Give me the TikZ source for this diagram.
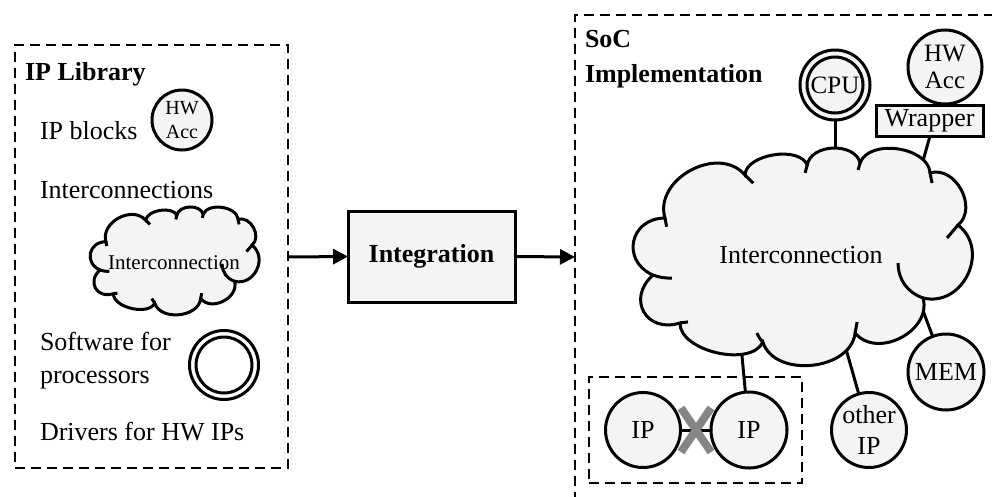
\documentclass[tikz,border=0pt]{standalone}
\usepackage{fontspec}
\setmainfont{Liberation Serif}
\usetikzlibrary{arrows.meta,calc}
\definecolor{shade}{HTML}{F4F4F4}
\definecolor{xmark}{HTML}{858585}
% cloud outline in unit coordinates: (0,0) top left, (1,1) bottom right
\newcommand\cloudoutline{%
  \path[draw, ln, fill=shade, bend right=78]
    (0.090,0.321) to[looseness=1.55] (0.054,0.590)
    to[looseness=1.65] (0.135,0.816)
    to[looseness=0.85] (0.384,0.906)
    to[looseness=1.05] (0.661,0.863)
    to[looseness=1.15] (0.865,0.698)
    to[looseness=1.30] (0.970,0.354)
    to[looseness=1.15] (0.886,0.108)
    to[looseness=0.95] (0.676,0.061)
    to[looseness=1.05] (0.517,0.071)
    to[looseness=0.85] (0.330,0.118)
    to[looseness=1.15] (0.090,0.321) -- cycle;
  \draw[ln] (0.090,0.321) -- (0.095,0.362);
  \draw[ln] (0.054,0.590) to[bend right=10] (0.111,0.604);
  \draw[ln] (0.135,0.816) -- (0.159,0.811);
  \draw[ln] (0.384,0.906) to[bend left=10] (0.366,0.863);
  \draw[ln] (0.661,0.863) -- (0.667,0.811);
  \draw[ln] (0.865,0.698) to[bend left=35] (0.790,0.533);
  \draw[ln] (0.970,0.354) -- (0.937,0.415);
  \draw[ln] (0.886,0.108) -- (0.892,0.156);
  \draw[ln] (0.676,0.061) -- (0.670,0.094);
  \draw[ln] (0.517,0.071) -- (0.511,0.108);
  \draw[ln] (0.330,0.118) -- (0.355,0.156);
}
\begin{document}
\begin{tikzpicture}[x=1pt,y=-1pt,
  every node/.style={inner sep=0pt, outer sep=0pt},
  ln/.style={line width=3pt},
  frame/.style={line width=2.8pt, dash pattern=on 10pt off 6pt},
  blob/.style={circle, draw, ln, fill=shade, minimum size=#1, align=center},
  txt/.style={font=\fontsize{26}{30}\selectfont},
  btxt/.style={font=\fontsize{26}{35}\selectfont\bfseries},
  flow/.style={ln, -{Triangle[length=15pt,width=15pt]}}
]
\useasboundingbox (0,0) rectangle (992,496);
\clip (0,0) rectangle (992,496);

% ---------- IP library ----------
\node[draw, frame, minimum width=273pt, minimum height=423pt, anchor=north west] (lib) at (15,45) {};
\node[btxt, anchor=base west] (libtitle) at (25,80) {IP Library};
\node[txt, anchor=base west] (tblocks) at (40,139) {IP blocks};
\node[blob=60pt, font=\fontsize{20}{24}\selectfont] (lhw) at (182,120) {HW\\Acc};
\node[txt, anchor=base west] (tinter) at (40,198) {Interconnections};
\begin{scope}[shift={(91,208)}, x={(166pt,0pt)}, y={(0pt,-105pt)}]
  \cloudoutline
\end{scope}
\node[font=\fontsize{21}{24}\selectfont] (lcloudtxt) at (174,263) {Interconnection};
\node[txt, anchor=base west] (tsw) at (40,350) {Software for};
\node[txt, anchor=base west] (tproc) at (40,383) {processors};
\node[circle, draw, ln, fill=white, minimum size=69pt] (lcpu) at (224,365) {};
\node[circle, draw, ln, fill=white, minimum size=56pt] (lcpuin) at (224,365) {};
\node[txt, anchor=base west] (tdrv) at (40,440) {Drivers for HW IPs};

% ---------- integration step ----------
\node[draw, ln, fill=shade, minimum width=167pt, minimum height=91pt, btxt] (integ) at (431.5,256.5) {Integration};
\coordinate (libout) at (288,257);
\coordinate (socin) at (575,257);
\draw[flow] (libout) -- (integ.west);
\draw[flow] (integ.east) -- (socin);

% ---------- SoC implementation ----------
\coordinate (socTR) at (1010,15);
\coordinate (socTL) at (575,15);
\coordinate (socBL) at (575,520);
\draw[frame] (socTR) -- (socTL) -- (socBL);
\node[btxt, anchor=base west] (soc1) at (585,47) {SoC};
\node[btxt, anchor=base west] (soc2) at (585,82) {Implementation};

% connector end points inside the interconnection cloud
\coordinate (pcpu) at (835,165);
\coordinate (wrapfoot) at (930,136);
\coordinate (pwrap) at (919,175);
\coordinate (pip) at (740,335);
\coordinate (pother) at (842,335);
\coordinate (pmem) at (916,292);

\node[circle, draw, ln, fill=shade, minimum size=70pt] (cpu) at (835,85) {};
\node[blob=56pt, font=\fontsize{25}{28}\selectfont] (cpuin) at (835,85) {CPU};
\node[blob=74pt, font=\fontsize{25}{27}\selectfont] (hw) at (945,67) {HW\\Acc};
\node[draw, ln, fill=shade, minimum width=107pt, minimum height=31pt, txt] (wrap) at (929.5,120.5) {Wrapper};

\node[blob=76pt, txt] (mem) at (946,372) {MEM};
\node[blob=75pt, font=\fontsize{26}{31}\selectfont] (other) at (869,430) {other\\IP};

\node[draw, frame, minimum width=213pt, minimum height=106pt, anchor=north west] (grp) at (589,377) {};
\node[blob=75pt, txt] (ipa) at (643,430) {IP};
\node[blob=76pt, txt] (ipb) at (749,430) {IP};

\draw[ln] (cpu) -- (pcpu);
\draw[ln] (wrapfoot) -- (pwrap);
\draw[ln] (ipb) -- (pip);
\draw[ln] (other) -- (pother);
\draw[ln] (mem) -- (pmem);

\begin{scope}[shift={(635,150)}, x={(333pt,0pt)}, y={(0pt,-212pt)}]
  \cloudoutline
\end{scope}
\node[txt] (nettxt) at (801,255) {Interconnection};

% broken direct link between the two IPs
\draw[ln] (ipa) -- (ipb);
\coordinate (xc) at (696,430);
\draw[xmark, line width=8pt] ($(xc)+(-15,-22)$) -- ($(xc)+(15,22)$);
\draw[xmark, line width=8pt] ($(xc)+(15,-22)$) -- ($(xc)+(-15,22)$);
\end{tikzpicture}
\end{document}
